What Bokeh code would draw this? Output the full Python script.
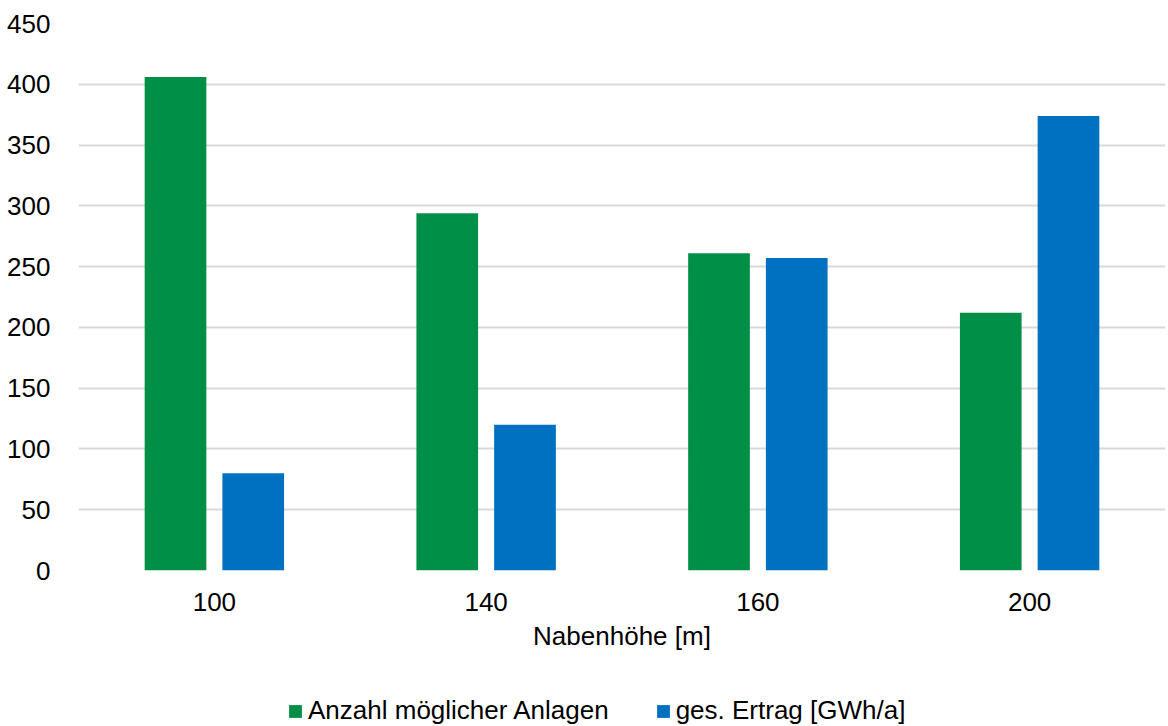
from bokeh.plotting import figure
from bokeh.models import ColumnDataSource, FixedTicker, Range1d, Legend, LegendItem
from bokeh.layouts import column
from bokeh.embed import file_html
from bokeh.resources import INLINE

categories = ["100", "140", "160", "200"]
anzahl = [406, 294, 261, 212]
ertrag = [80, 120, 257, 374]
y_ticks = [0, 50, 100, 150, 200, 250, 300, 350, 400, 450]

series_names = ["Anzahl möglicher Anlagen", "ges. Ertrag [GWh/a]"]
colors = ["#008F47", "#0070C0"]

FONT = "Liberation Sans"
FS = "26px"

xpos = list(range(len(categories)))
src = ColumnDataSource(dict(
    x=xpos,
    xg=[v - 0.143 for v in xpos],
    xb=[v + 0.143 for v in xpos],
    anzahl=anzahl,
    ertrag=ertrag,
))

p = figure(width=1166, height=672, output_backend="svg", toolbar_location=None,
           x_range=Range1d(-0.5, 3.5), y_range=Range1d(0, 450),
           min_border_left=78, min_border_top=23, min_border_right=1, min_border_bottom=102)
p.outline_line_color = None
p.background_fill_color = "white"
p.border_fill_color = "white"

p.vbar(x="xg", top="anzahl", width=0.227, source=src, fill_color=colors[0], line_color=None)
p.vbar(x="xb", top="ertrag", width=0.227, source=src, fill_color=colors[1], line_color=None)

p.xgrid.grid_line_color = None
p.ygrid.grid_line_color = "#D9D9D9"
p.ygrid.grid_line_width = 2

p.yaxis.ticker = FixedTicker(ticks=y_ticks)
p.xaxis.ticker = FixedTicker(ticks=xpos)
p.xaxis.major_label_overrides = {i: c for i, c in enumerate(categories)}

for ax in (p.xaxis[0], p.yaxis[0]):
    ax.axis_line_color = None
    ax.major_tick_line_color = None
    ax.minor_tick_line_color = None
    ax.major_label_text_font = FONT
    ax.major_label_text_font_size = FS
    ax.major_label_text_color = "black"

p.yaxis.major_label_standoff = 22
p.xaxis.major_label_standoff = 16
p.xaxis.axis_label = "Nabenhöhe [m]"
p.xaxis.axis_label_text_font = FONT
p.xaxis.axis_label_text_font_size = FS
p.xaxis.axis_label_text_font_style = "normal"
p.xaxis.axis_label_text_color = "black"
p.xaxis.axis_label_standoff = 7

# legend strip below the chart (its bars lie outside its visible range; only the legend shows)
lf = figure(width=1166, height=54, output_backend="svg", toolbar_location=None,
            x_range=Range1d(-0.5, 3.5), y_range=Range1d(1000, 1001),
            min_border_left=78, min_border_right=1, min_border_top=0, min_border_bottom=0)
lf.axis.visible = False
lf.grid.visible = False
lf.outline_line_color = None
lg = lf.vbar(x="xg", top="anzahl", width=0.227, source=src, fill_color=colors[0], line_color=None)
lb = lf.vbar(x="xb", top="ertrag", width=0.227, source=src, fill_color=colors[1], line_color=None)

legend = Legend(items=[LegendItem(label=series_names[0], renderers=[lg]),
                       LegendItem(label=series_names[1], renderers=[lb])],
                orientation="horizontal", location=(209, 0))
legend.label_text_font = FONT
legend.label_text_font_size = FS
legend.label_text_color = "black"
legend.glyph_width = 16
legend.glyph_height = 16
legend.label_standoff = 5
legend.spacing = 46
legend.padding = 0
legend.margin = 0
legend.border_line_color = None
legend.background_fill_alpha = 0
lf.add_layout(legend)

layout = column(p, lf, spacing=0)
open("out.html", "w").write(file_html(layout, INLINE))
